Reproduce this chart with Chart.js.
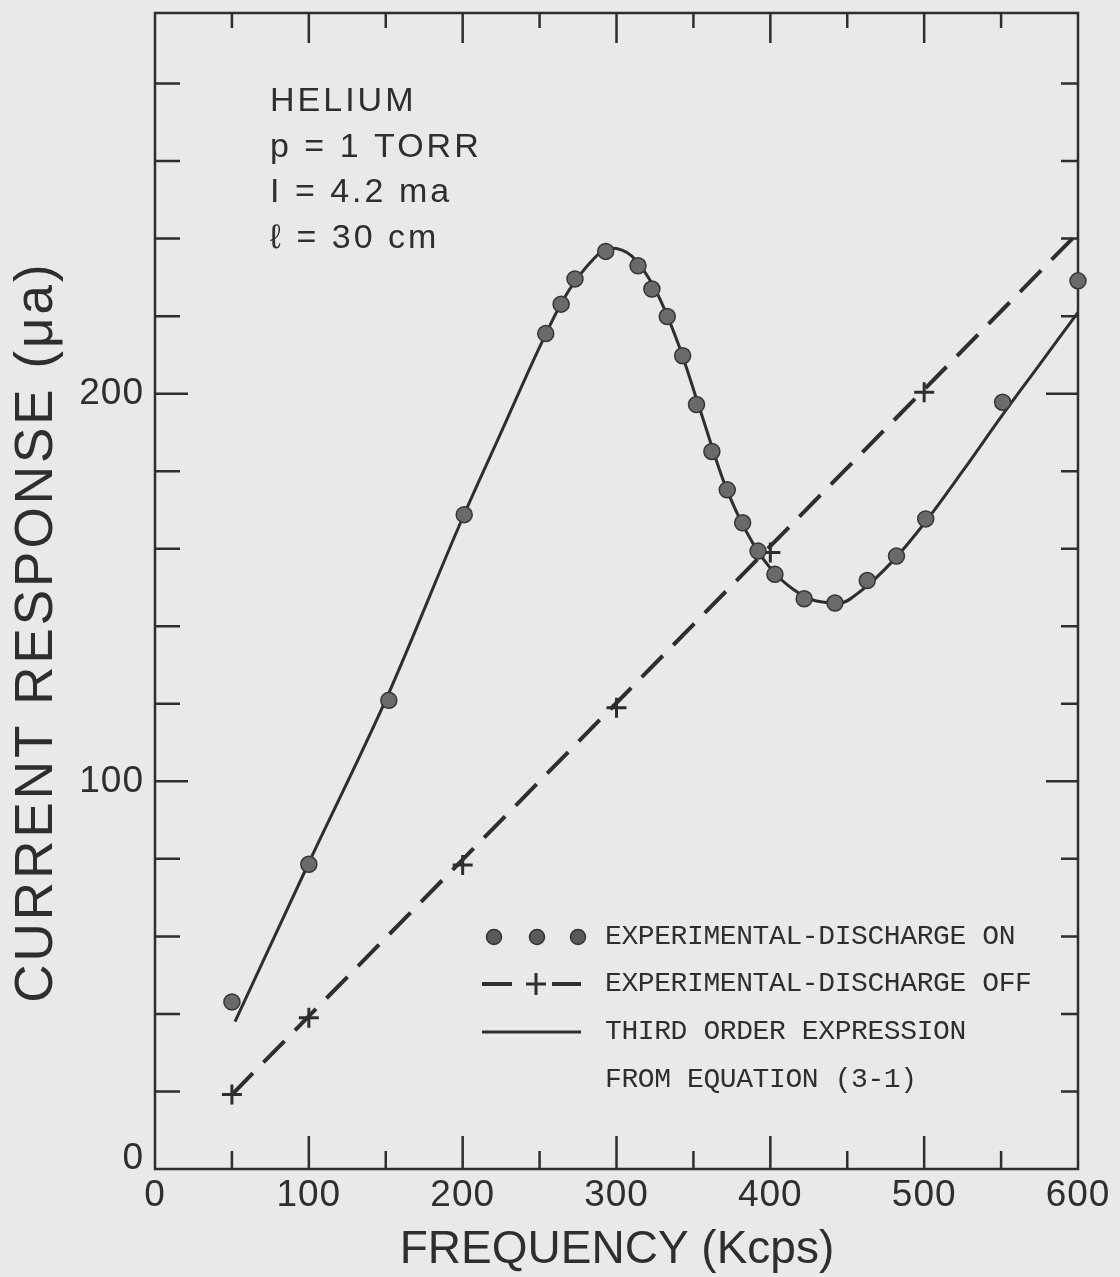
<!DOCTYPE html>
<html>
<head>
<meta charset="utf-8">
<title>Helium current response</title>
<script src="https://cdn.jsdelivr.net/npm/chart.js@4.4.1/dist/chart.umd.min.js"></script>
<style>
  html, body { margin: 0; padding: 0; background: #e9e9e9; }
  #wrap { width: 1120px; height: 1277px; }
</style>
</head>
<body>
<div id="wrap"><canvas id="myChart" width="1120" height="1277"></canvas></div>
<script>
// discharge on (dots)
const onFreq = [50, 100, 152, 201, 254, 264, 273, 293, 314, 323, 333, 343, 352, 362, 372, 382, 392, 403, 422, 442, 463, 482, 501, 551, 600];
const onCurrent = [43.1, 78.6, 120.9, 168.8, 215.5, 223.1, 229.6, 236.7, 233, 227, 219.9, 209.8, 197.2, 185.1, 175.2, 166.7, 159.4, 153.4, 147.1, 146, 151.8, 158.1, 167.7, 197.8, 229.1];

// discharge off (crosses) and the dashed line through them
const offFreq = [50, 100, 200, 300, 400, 500];
const offCurrent = [19.2, 39, 78.4, 119, 159, 200.4];
const offLineFreq = [50, 600];
const offLineCurrent = [19.2, 241.5];

// third order expression (solid curve)
const fitFreq = [52, 100, 150, 200, 225, 250, 265, 280, 296, 310, 325, 340, 355, 370, 385, 400, 415, 430, 445, 460, 480, 500, 525, 550, 575, 600];
const fitCurrent = [38, 79, 121, 168, 190, 212, 224, 232.5, 237.6, 235.5, 227, 213, 195, 177, 164, 155, 149.5, 146.5, 146, 149.5, 157, 166.5, 180, 194, 207.5, 221];

// axes
const xTicks = [0, 50, 100, 150, 200, 250, 300, 350, 400, 450, 500, 550, 600];
const xLabels = ["0", "100", "200", "300", "400", "500", "600"];
const xLabelValues = [0, 100, 200, 300, 400, 500, 600];
const yTicks = [0, 20, 40, 60, 80, 100, 120, 140, 160, 180, 200, 220, 240, 260, 280];
const yLabels = ["0", "100", "200"];
const yLabelValues = [0, 100, 200];

const notes = ["HELIUM", "p = 1 TORR", "I = 4.2 ma", "\u2113 = 30 cm"];
const legendTexts = ["EXPERIMENTAL-DISCHARGE ON", "EXPERIMENTAL-DISCHARGE OFF", "THIRD ORDER EXPRESSION", "FROM EQUATION (3-1)"];

function pairs(xs, ys) {
  return xs.map((x, i) => ({ x: x, y: ys[i] }));
}

const INK = "#2e2e2e";

function text(ctx, str, x, y, font, align, spacing) {
  ctx.save();
  ctx.font = font;
  ctx.fillStyle = INK;
  ctx.textAlign = align || "left";
  ctx.textBaseline = "middle";
  ctx.letterSpacing = (spacing || 0) + "px";
  ctx.fillText(str, x, y);
  ctx.restore();
}

const paperPlugin = {
  id: "paper",
  beforeDraw(chart) {
    const ctx = chart.ctx;
    ctx.save();
    ctx.fillStyle = "#e9e9e9";
    ctx.fillRect(0, 0, chart.width, chart.height);
    ctx.restore();
  },
  beforeDatasetsDraw(chart) {
    const ctx = chart.ctx;
    const a = chart.chartArea;
    const xs = chart.scales.x;
    const ys = chart.scales.y;

    ctx.save();
    ctx.strokeStyle = INK;
    ctx.lineWidth = 2.5;
    ctx.lineCap = "square";
    ctx.strokeRect(a.left, a.top, a.right - a.left, a.bottom - a.top);

    ctx.lineWidth = 2.5;
    ctx.lineCap = "butt";
    ctx.beginPath();
    xTicks.forEach((v) => {
      if (v == 0 || v == 600) return;
      const px = xs.getPixelForValue(v);
      const major = v % 100 == 0;
      ctx.moveTo(px, a.bottom);
      ctx.lineTo(px, a.bottom - (major ? 33 : 18));
      ctx.moveTo(px, a.top);
      ctx.lineTo(px, a.top + (major ? 30 : 15));
    });
    yTicks.forEach((v) => {
      if (v == 0) return;
      const py = ys.getPixelForValue(v);
      const major = v % 100 == 0;
      ctx.moveTo(a.left, py);
      ctx.lineTo(a.left + (major ? 33 : 25), py);
      ctx.moveTo(a.right, py);
      ctx.lineTo(a.right - (major ? 32 : 17), py);
    });
    ctx.stroke();
    ctx.restore();

    // tick labels
    xLabelValues.forEach((v, i) => {
      text(ctx, xLabels[i], xs.getPixelForValue(v), a.bottom + 27, "37px 'Liberation Sans'", "center", 1);
    });
    yLabelValues.forEach((v, i) => {
      let py = ys.getPixelForValue(v);
      if (v == 0) py -= 10;
      text(ctx, yLabels[i], a.left - 11, py, "37px 'Liberation Sans'", "right", 1);
    });

    // axis titles
    text(ctx, "FREQUENCY (Kcps)", 617, 1250, "46px 'Liberation Sans'", "center", 0);
    ctx.save();
    ctx.translate(37, 632);
    ctx.rotate(-Math.PI / 2);
    text(ctx, "CURRENT RESPONSE (\u03bca)", 0, 0, "53px 'Liberation Sans'", "center", 3);
    ctx.restore();

    // notes upper left
    notes.forEach((s, i) => {
      text(ctx, s, 270, 102 + i * 45.5, "34px 'Liberation Sans'", "left", 3);
    });

    // legend
    const rows = [937, 984, 1032, 1080];
    legendTexts.forEach((s, i) => {
      text(ctx, s, 605, rows[i], "28px 'Liberation Mono'", "left", -0.4);
    });
    ctx.save();
    [494, 537, 578].forEach((cx) => {
      ctx.beginPath();
      ctx.arc(cx, rows[0], 7.5, 0, Math.PI * 2);
      ctx.fillStyle = "#5a5a5a";
      ctx.fill();
      ctx.lineWidth = 1.5;
      ctx.strokeStyle = "#333";
      ctx.stroke();
    });
    ctx.strokeStyle = INK;
    ctx.lineWidth = 4;
    ctx.beginPath();
    ctx.moveTo(482, rows[1]);
    ctx.lineTo(512, rows[1]);
    ctx.moveTo(552, rows[1]);
    ctx.lineTo(581, rows[1]);
    ctx.stroke();
    ctx.lineWidth = 3;
    ctx.beginPath();
    ctx.moveTo(526, rows[1]);
    ctx.lineTo(546, rows[1]);
    ctx.moveTo(536, rows[1] - 11);
    ctx.lineTo(536, rows[1] + 11);
    ctx.stroke();
    ctx.lineWidth = 3;
    ctx.beginPath();
    ctx.moveTo(482, rows[2]);
    ctx.lineTo(581, rows[2]);
    ctx.stroke();
    ctx.restore();
  },
};

document.addEventListener("DOMContentLoaded", function () {
  const ctx = document.getElementById("myChart").getContext("2d");
  new Chart(ctx, {
    type: "scatter",
    data: {
      datasets: [
        {
          label: "EXPERIMENTAL-DISCHARGE ON",
          data: pairs(onFreq, onCurrent),
          showLine: false,
          pointRadius: 8,
          pointBackgroundColor: "#6a6a6a",
          pointBorderColor: "#353535",
          pointBorderWidth: 1.5,
          order: 0,
        },
        {
          label: "EXPERIMENTAL-DISCHARGE OFF",
          data: pairs(offFreq, offCurrent),
          showLine: false,
          pointStyle: "cross",
          pointRadius: 10,
          pointBorderColor: INK,
          pointBorderWidth: 3,
          order: 1,
        },
        {
          label: "discharge off line",
          data: pairs(offLineFreq, offLineCurrent),
          showLine: true,
          borderColor: INK,
          borderWidth: 4,
          borderDash: [30, 15],
          pointRadius: 0,
          order: 2,
        },
        {
          label: "THIRD ORDER EXPRESSION",
          data: pairs(fitFreq, fitCurrent),
          showLine: true,
          borderColor: INK,
          borderWidth: 3,
          cubicInterpolationMode: "monotone",
          pointRadius: 0,
          order: 3,
        },
      ],
    },
    options: {
      responsive: false,
      animation: false,
      devicePixelRatio: 1,
      clip: false,
      layout: { padding: { left: 155, right: 42, top: 12, bottom: 108 } },
      scales: {
        x: { type: "linear", min: 0, max: 600, display: false },
        y: { type: "linear", min: 0, max: 298.2, display: false },
      },
      plugins: {
        legend: { display: false },
        tooltip: { enabled: false },
      },
    },
    plugins: [paperPlugin],
  });
});
</script>
</body>
</html>
